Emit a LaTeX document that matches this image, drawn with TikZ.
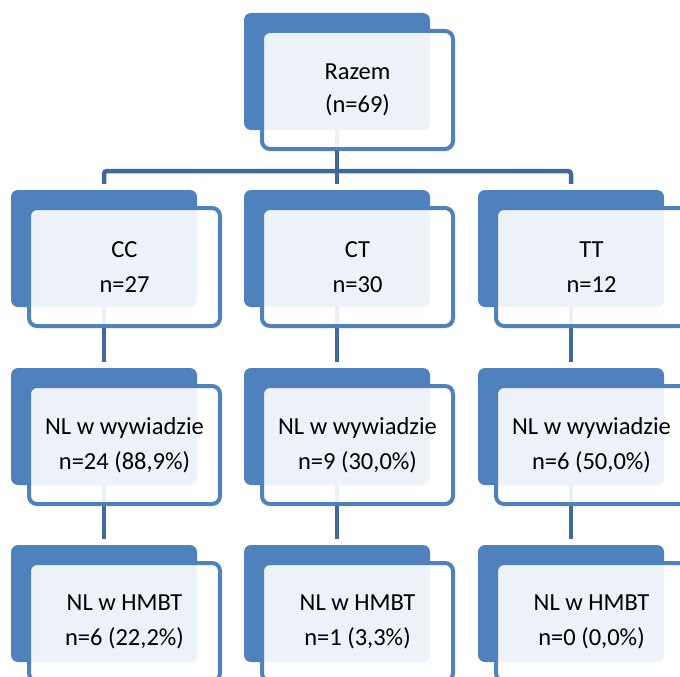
\documentclass[tikz,border=0pt]{standalone}
\usepackage{fontspec}
\setmainfont{Carlito}
\definecolor{accent}{HTML}{4F81BD}
\definecolor{connc}{HTML}{41699F}
\tikzset{
  backbox/.style={fill=accent, draw=none, rounded corners=7pt, minimum width=186pt, minimum height=117pt, inner sep=0pt},
  frontbox/.style={draw=accent, line width=4pt, fill=white, fill opacity=0.9, text opacity=1, rounded corners=8pt, minimum width=191pt, minimum height=118pt, inner sep=0pt, align=center, font=\fontsize{24.5}{35}\selectfont, text=black},
  conn/.style={draw=connc, line width=4.5pt}
}
\begin{document}
\begin{tikzpicture}[x=1pt,y=-1pt]
\useasboundingbox (0,0) rectangle (680,677);
\clip (0,0) rectangle (680,677);
% back boxes
\path
  (337,71.5) node[backbox] (tb) {}
  (104,248.5) node[backbox] (b21) {}
  (337,248.5) node[backbox] (b22) {}
  (571,248.5) node[backbox] (b23) {}
  (104,426.5) node[backbox] (b31) {}
  (337,426.5) node[backbox] (b32) {}
  (571,426.5) node[backbox] (b33) {}
  (104,603.5) node[backbox] (b41) {}
  (337,603.5) node[backbox] (b42) {}
  (571,603.5) node[backbox] (b43) {};
\coordinate (bus) at (337,171);
% connectors
\draw[conn] (tb.south) -- (bus);
\draw[conn, rounded corners=3pt, shorten <=6pt, shorten >=6pt] (b21.north) |- (bus) -| (b23.north);
\draw[conn, shorten >=6pt] (bus) -- (b22.north);
\draw[conn, shorten >=6pt] (b21.south) -- (b31.north);
\draw[conn, shorten >=6pt] (b22.south) -- (b32.north);
\draw[conn, shorten >=6pt] (b23.south) -- (b33.north);
\draw[conn, shorten >=6pt] (b31.south) -- (b41.north);
\draw[conn, shorten >=6pt] (b32.south) -- (b42.north);
\draw[conn, shorten >=6pt] (b33.south) -- (b43.north);
% front boxes with text
\node[frontbox, font=\fontsize{24.5}{33}\selectfont] (tf) at (357.5,90) {Razem\\(n=69)};
\node[frontbox] (f21) at (124.5,267) {CC\\n=27};
\node[frontbox] (f22) at (357.5,267) {CT\\n=30};
\node[frontbox] (f23) at (591.5,267) {TT\\n=12};
\node[frontbox] (f31) at (124.5,445) {NL w wywiadzie\\n=24 (88,9\%)};
\node[frontbox] (f32) at (357.5,445) {NL w wywiadzie\\n=9 (30,0\%)};
\node[frontbox] (f33) at (591.5,445) {NL w wywiadzie\\n=6 (50,0\%)};
\node[frontbox] (f41) at (124.5,622) {NL w HMBT\\n=6 (22,2\%)};
\node[frontbox] (f42) at (357.5,622) {NL w HMBT\\n=1 (3,3\%)};
\node[frontbox] (f43) at (591.5,622) {NL w HMBT\\n=0 (0,0\%)};
\end{tikzpicture}
\end{document}
